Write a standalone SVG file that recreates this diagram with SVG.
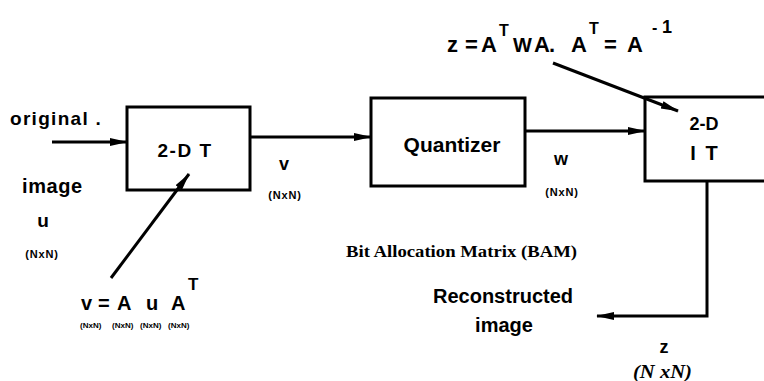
<svg xmlns="http://www.w3.org/2000/svg" width="764" height="381" viewBox="0 0 764 381">
<style>
.t{font-family:"Liberation Sans",Arial,sans-serif;font-weight:bold;fill:#000}
.s{font-family:"Liberation Serif","Times New Roman",serif;font-weight:bold;fill:#000}
.box{fill:#fff;stroke:#000;stroke-width:3}
.ln{fill:none;stroke:#000;stroke-width:3}
.sub{font-size:11px;letter-spacing:0.8px}
.tiny{font-size:8px}
</style>
<defs>
<marker id="ah" viewBox="0 0 10 10" refX="9.5" refY="5" markerWidth="6" markerHeight="6" orient="auto" markerUnits="strokeWidth">
<path d="M0,2.8 L10,5 L0,7.2 Z" fill="#000"/>
</marker>
</defs>
<rect width="764" height="381" fill="#fff"/>
<g id="dt">
<rect class="box" x="127" y="107" width="123" height="83"/>
<text class="t" x="185" y="157" font-size="19" letter-spacing="1.5" text-anchor="middle">2-D T</text>
</g>
<g id="quantizer">
<rect class="box" x="371" y="98" width="154" height="88"/>
<text class="t" x="452" y="152" font-size="21" text-anchor="middle">Quantizer</text>
</g>
<g id="idt">
<rect class="box" x="645" y="97" width="125" height="84"/>
<text class="t" x="704" y="130" font-size="18" text-anchor="middle">2-D</text>
<text class="t" x="705" y="160" font-size="20" letter-spacing="2" text-anchor="middle">I T</text>
</g>
<g id="connectors">
<line class="ln" x1="52" y1="142" x2="127" y2="142" marker-end="url(#ah)"/>
<line class="ln" x1="251" y1="137" x2="371" y2="137" marker-end="url(#ah)"/>
<line class="ln" x1="526" y1="131" x2="645" y2="131" marker-end="url(#ah)"/>
<line class="ln" x1="111" y1="278" x2="189" y2="174" marker-end="url(#ah)"/>
<line class="ln" x1="553" y1="63" x2="678" y2="111" marker-end="url(#ah)"/>
<polyline class="ln" points="707,181 707,316 597,316" marker-end="url(#ah)"/>
</g>
<g id="labels">
<text class="t" x="10" y="125" font-size="19" letter-spacing="1.3">original .</text>
<text class="t" x="22" y="193" font-size="20" letter-spacing="0.6">image</text>
<text class="t" x="43" y="227" font-size="19" text-anchor="middle">u</text>
<text class="t sub" x="42" y="258" text-anchor="middle">(NxN)</text>
<text class="t" x="284" y="170" font-size="18" text-anchor="middle">v</text>
<text class="t sub" x="285" y="199" text-anchor="middle">(NxN)</text>
<text class="t" x="561" y="165" font-size="18" text-anchor="middle">w</text>
<text class="t sub" x="562" y="196" text-anchor="middle">(NxN)</text>
<text class="s" x="346" y="257" font-size="17" textLength="231" lengthAdjust="spacingAndGlyphs">Bit Allocation Matrix (BAM)</text>
<text class="t" x="503" y="303" font-size="20" text-anchor="middle">Reconstructed</text>
<text class="t" x="504" y="332" font-size="20" text-anchor="middle">image</text>
<text class="t" x="664" y="353" font-size="18" text-anchor="middle">z</text>
<text class="s" x="633" y="378" font-size="18" font-style="italic" textLength="59" lengthAdjust="spacingAndGlyphs">(N xN)</text>
<text class="t" font-size="22"><tspan x="447" y="52">z</tspan><tspan x="465" y="52">=</tspan><tspan x="481" y="52">A</tspan><tspan x="499" y="36" font-size="16">T</tspan><tspan x="513" y="52" font-size="20">W</tspan><tspan x="534" y="52">A</tspan><tspan x="549" y="52">.</tspan><tspan x="571" y="52">A</tspan><tspan x="589" y="34" font-size="16">T</tspan><tspan x="604" y="52">=</tspan><tspan x="627" y="52">A</tspan><tspan x="652" y="33" font-size="16">-</tspan><tspan x="662" y="33" font-size="18">1</tspan></text>
<text class="t" font-size="20"><tspan x="81" y="310">v</tspan><tspan x="98" y="310">=</tspan><tspan x="117" y="310">A</tspan><tspan x="146" y="310">u</tspan><tspan x="171" y="310">A</tspan><tspan x="188" y="290" font-size="17">T</tspan></text>
<text class="t tiny" y="328"><tspan x="80">(NxN)</tspan><tspan x="112">(NxN)</tspan><tspan x="140">(NxN)</tspan><tspan x="168">(NxN)</tspan></text>
</g>
</svg>
